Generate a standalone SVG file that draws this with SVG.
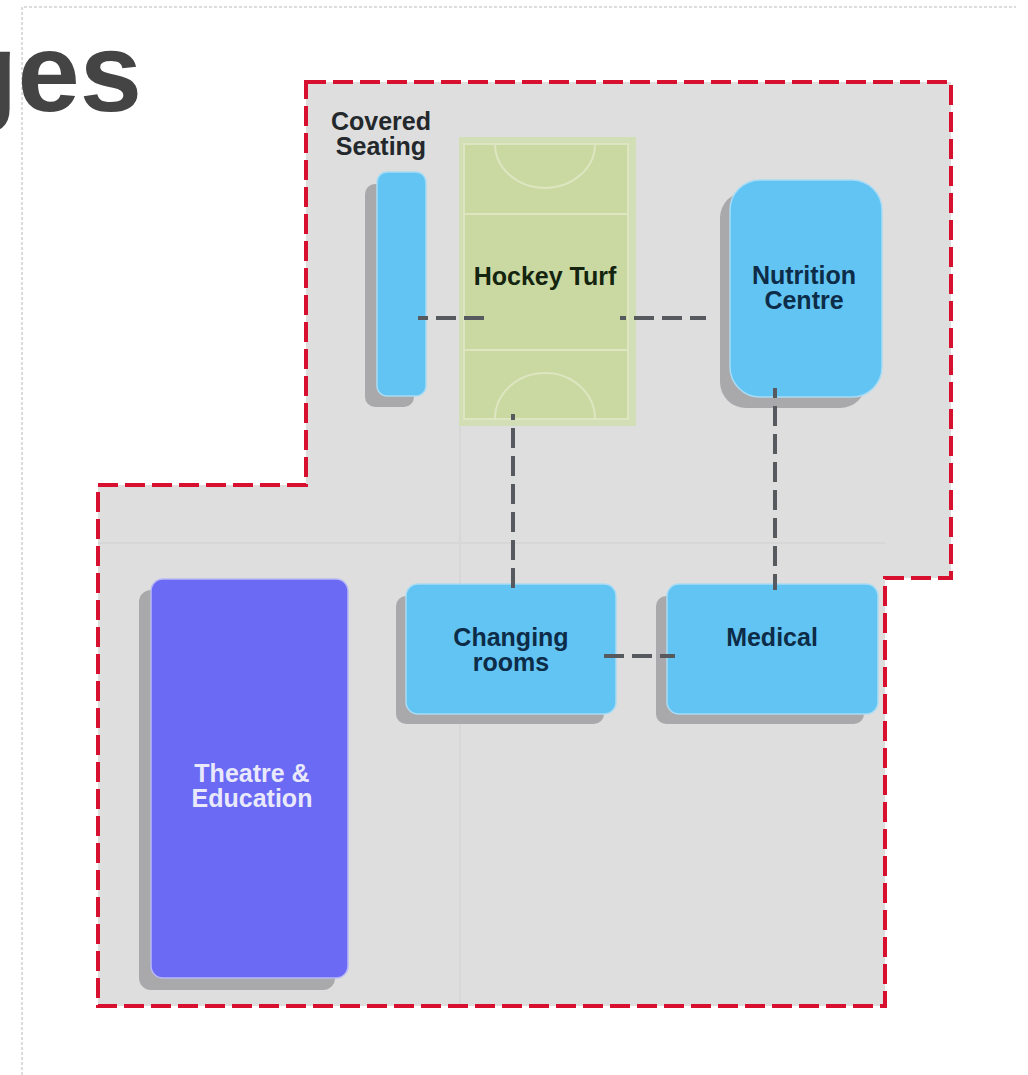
<svg xmlns="http://www.w3.org/2000/svg" width="1028" height="1075" viewBox="0 0 1028 1075">
<style>
text{font-family:"Liberation Sans",Arial,Helvetica,sans-serif;font-weight:700;font-size:25px;text-anchor:middle}
.shadow{fill:#a9a9ab}
.blue{fill:#62c4f3;stroke:#a9dcf4;stroke-width:1.5}
.lbl{fill:#0d2c48}
.pitch{fill:none;stroke:#dde6c0;stroke-width:2}
.conn{fill:none;stroke:#565a5e;stroke-width:4;stroke-dasharray:20 8}
</style>
<rect width="1028" height="1075" fill="#ffffff"/>
<path d="M22 1075V7H1016" fill="none" stroke="#dcdcdc" stroke-width="2" stroke-dasharray="3 2"/>
<text x="142" y="111" style="font-size:112px;text-anchor:end" fill="#444444">ges</text>
<g id="site">
<path d="M306 82H951V578H885V1006H98V485H306Z" fill="#dedede"/>
<path d="M460 426V1006M98 543H885" fill="none" stroke="#d7d7d7" stroke-width="2"/>
<path d="M306 82H951V578H885V1006H98V485H306Z" fill="none" stroke="#d6102e" stroke-width="4" stroke-dasharray="20 7"/>
</g>
<g id="hockey-turf">
<rect x="459" y="137" width="177" height="289" fill="#d2deb6"/>
<rect x="464" y="144" width="164" height="275" fill="#c9d9a1" stroke="#dde6c0" stroke-width="2"/>
<path d="M464 214H628M464 350H628M495 144A50 44 0 0 0 595 144M495 419A50 46 0 0 1 595 419" class="pitch"/>
<text x="545" y="285" fill="#14240f">Hockey Turf</text>
</g>
<g id="covered-seating">
<rect x="365" y="184" width="49" height="223" rx="10" class="shadow"/>
<rect x="377" y="172" width="49" height="224" rx="10" class="blue"/>
<text fill="#23282c"><tspan x="381" y="130">Covered</tspan><tspan x="381" y="155">Seating</tspan></text>
</g>
<g id="nutrition-centre">
<rect x="720" y="192" width="146" height="216" rx="26" class="shadow"/>
<rect x="730" y="180" width="152" height="217" rx="30" class="blue"/>
<text class="lbl"><tspan x="804" y="284">Nutrition</tspan><tspan x="804" y="309">Centre</tspan></text>
</g>
<g id="changing-rooms">
<rect x="396" y="596" width="208" height="128" rx="10" class="shadow"/>
<rect x="406" y="584" width="210" height="130" rx="12" class="blue"/>
<text class="lbl"><tspan x="511" y="646">Changing</tspan><tspan x="511" y="671">rooms</tspan></text>
</g>
<g id="medical">
<rect x="656" y="596" width="208" height="128" rx="10" class="shadow"/>
<rect x="667" y="584" width="211" height="130" rx="12" class="blue"/>
<text x="772" y="646" class="lbl">Medical</text>
</g>
<g id="theatre-education">
<rect x="139" y="590" width="196" height="400" rx="12" class="shadow"/>
<rect x="151" y="579" width="197" height="399" rx="12" fill="#6a6af5" stroke="#b9b9f5" stroke-width="1.5"/>
<text fill="#e9e9fb"><tspan x="252" y="782">Theatre &amp;</tspan><tspan x="252" y="807">Education</tspan></text>
</g>
<g id="connectors">
<path d="M418 318H484" class="conn" stroke-dashoffset="10"/>
<path d="M620 318H706" class="conn" stroke-dashoffset="14"/>
<path d="M513 414V590" class="conn" stroke-dashoffset="14"/>
<path d="M775 388V590" class="conn" stroke-dashoffset="10"/>
<path d="M604 656H675" class="conn"/>
</g>
</svg>
